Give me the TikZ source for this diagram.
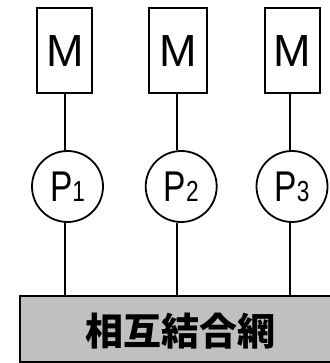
\documentclass[tikz,border=0pt]{standalone}
\usepackage{fontspec}
\setmainfont{Liberation Sans}
\newfontfamily\cjk{Noto Sans CJK JP Black}
\definecolor{netgray}{HTML}{C0C0C0}
\begin{document}
\begin{tikzpicture}[x=1pt,y=-1pt,
  membox/.style={draw,line width=2pt,minimum width=55pt,minimum height=85pt,inner sep=0pt,
    font=\fontsize{45}{45}\selectfont},
  proc/.style={draw,circle,line width=1.8pt,minimum size=71pt,inner sep=0pt},
  wire/.style={line width=2pt}]
\useasboundingbox (0,0) rectangle (329,363);
\newcommand{\ptext}[1]{\scalebox{0.78}[1]{\fontsize{43}{43}\selectfont P\fontsize{29}{29}\selectfont #1}}
\node[membox] (m1) at (64.8,50.6) {M};
\node[membox,minimum width=58pt] (m2) at (178,50.6) {M};
\node[membox] (m3) at (292.5,50.6) {M};
\node[proc] (p1) at (67.5,186.5) {\ptext{1}};
\node[proc] (p2) at (181.2,186.5) {\ptext{2}};
\node[proc] (p3) at (292,186.5) {\ptext{3}};
\node[draw,line width=2pt,fill=netgray,minimum width=322pt,minimum height=66pt,inner sep=0pt,anchor=north west] (net) at (19.3,295) {};
\node[font={\cjk\fontsize{38}{38}\selectfont}] (nettext) at (180,331) {相互結合網};
\coordinate (a1) at (64.5,0);
\coordinate (a2) at (177,0);
\coordinate (a3) at (290,0);
\foreach \i in {1,2,3}{
  \draw[wire] (a\i |- m\i.south) -- (a\i |- p\i.north);
  \draw[wire] (a\i |- p\i.south) -- (a\i |- net.north);
}
\end{tikzpicture}
\end{document}
